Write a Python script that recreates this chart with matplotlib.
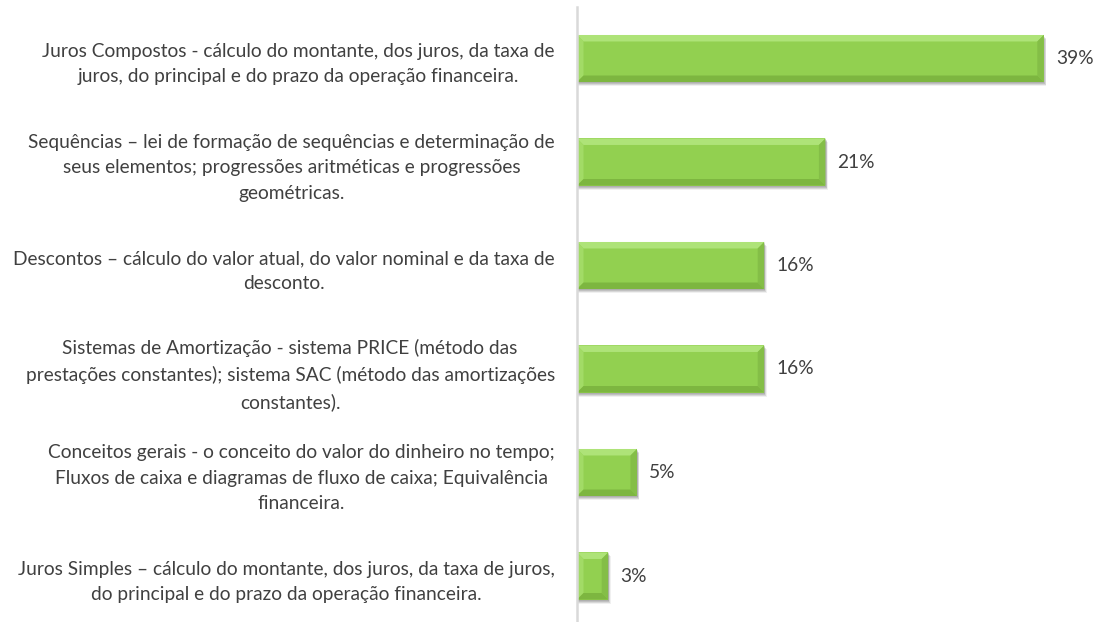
import matplotlib
matplotlib.use('Agg')
import matplotlib.pyplot as plt
from matplotlib.patches import Polygon, Rectangle
import numpy as np

categories = [
    "Juros Compostos - cálculo do montante, dos juros, da taxa de\njuros, do principal e do prazo da operação financeira.",
    "Sequências – lei de formação de sequências e determinação de\nseus elementos; progressões aritméticas e progressões\ngeométricas.",
    "Descontos – cálculo do valor atual, do valor nominal e da taxa de\ndesconto.",
    "Sistemas de Amortização - sistema PRICE (método das\nprestações constantes); sistema SAC (método das amortizações\nconstantes).",
    "Conceitos gerais - o conceito do valor do dinheiro no tempo;\nFluxos de caixa e diagramas de fluxo de caixa; Equivalência\nfinanceira.",
    "Juros Simples – cálculo do montante, dos juros, da taxa de juros,\ndo principal e do prazo da operação financeira.",
]
values = [38.9, 20.7, 15.6, 15.6, 5.0, 2.6]

plt.rcParams['font.family'] = ['Lato', 'DejaVu Sans']

W, H = 1096, 622
fig = plt.figure(figsize=(W / 100, H / 100), dpi=100)
ax_left = 577 / W
ax_bottom = (H - 627.75) / H
ax_height = 621 / H
ax = fig.add_axes([ax_left, ax_bottom, 1 - ax_left, ax_height])

n = len(categories)
y = np.arange(n)
px_per_unit = 12.0
ax.set_xlim(0, (W - 577) / px_per_unit)
ax.set_ylim(n - 0.5, -0.5)

bar_h = 0.4545
main = '#92D050'
bars = ax.barh(y, values, height=bar_h, color=main, edgecolor='none', zorder=3)

# bevel & shadow
py_per_unit = ax_height * H / n
bx = 6.5 / px_per_unit
by = 6.5 / py_per_unit
for yc, v in zip(y, values):
    x0, x1 = 0, v
    yt, yb = yc - bar_h / 2, yc + bar_h / 2
    # shadow
    for k, a in [(1, 0.09), (2, 0.10), (3, 0.10), (4, 0.06)]:
        ax.add_patch(Rectangle((x0, yt + k / py_per_unit), v + k * 0.6 / px_per_unit, bar_h,
                               facecolor='#000000', alpha=a, edgecolor='none', zorder=2))
    ax.add_patch(Polygon([(x0, yt), (x1, yt), (x1 - bx, yt + by), (x0 + bx, yt + by)],
                         closed=True, facecolor='#AEE378', edgecolor='none', zorder=4))
    ax.add_patch(Polygon([(x0, yt), (x0 + bx, yt + by), (x0 + bx, yb - by), (x0, yb)],
                         closed=True, facecolor='#A2DB66', edgecolor='none', zorder=4))
    ax.add_patch(Polygon([(x1, yt), (x1, yb), (x1 - bx, yb - by), (x1 - bx, yt + by)],
                         closed=True, facecolor='#84BE47', edgecolor='none', zorder=4))
    ax.add_patch(Polygon([(x0, yb), (x1, yb), (x1 - bx, yb - by), (x0 + bx, yb - by)],
                         closed=True, facecolor='#7DB640', edgecolor='none', zorder=4))
    ax.text(v + 12 / px_per_unit, yc, f"{v:.0f}%", va='center', ha='left',
            fontsize=13.8, color='#404040', zorder=5)

ax.set_yticks(y)
ax.set_yticklabels(categories, fontsize=13.8, color='#404040', multialignment='center',
                   linespacing=1.6)
ax.tick_params(axis='y', length=0, pad=16)
ax.set_xticks([])
for s in ['top', 'right', 'bottom']:
    ax.spines[s].set_visible(False)
ax.spines['left'].set_color('#D9D9D9')
ax.spines['left'].set_linewidth(1.8)
ax.spines['left'].set_zorder(6)

fig.savefig('out.png', dpi=100)
